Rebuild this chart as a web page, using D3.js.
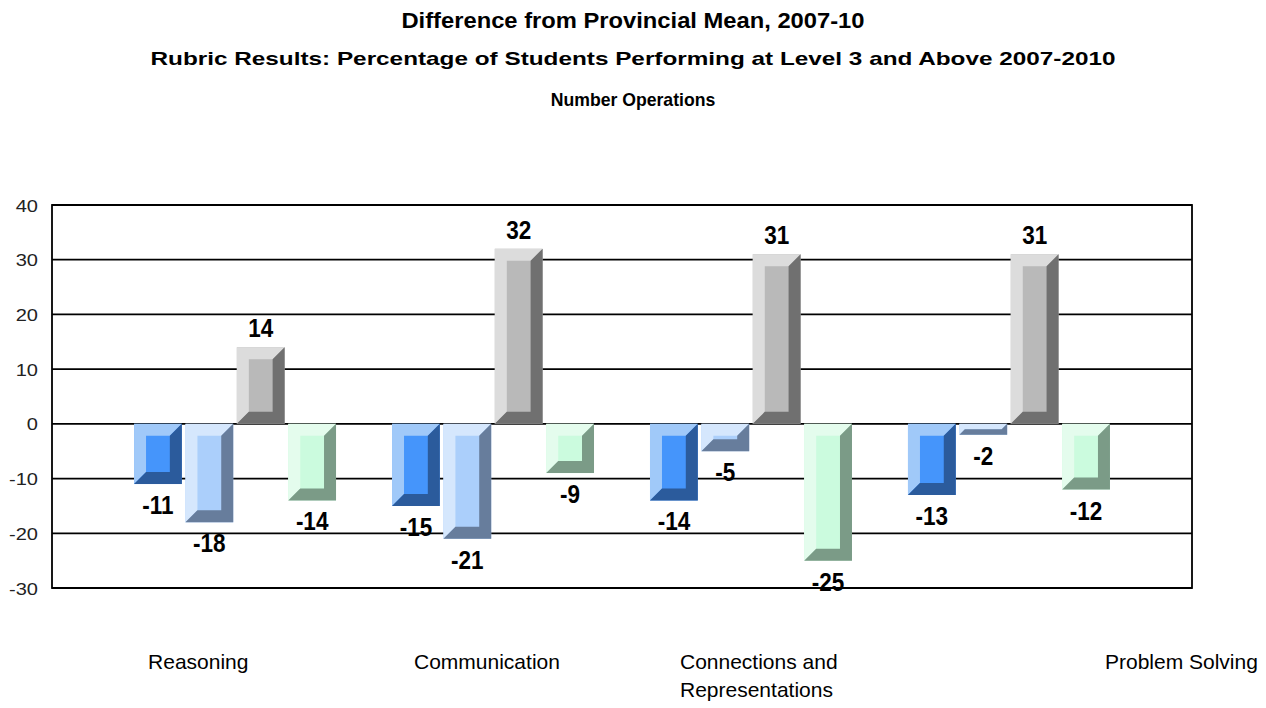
<!DOCTYPE html>
<html>
<head>
<meta charset="utf-8">
<script src="https://cdn.jsdelivr.net/npm/d3@7"></script>
<style>
  html, body { margin: 0; padding: 0; background: #ffffff; }
  svg { display: block; }
  text { font-family: Arial, "Liberation Sans", Helvetica, sans-serif; }
</style>
</head>
<body>
<div id="chart"></div>
<script>
// ---------- data ----------
const titleLines = [
  "Difference from Provincial Mean, 2007-10",
  "Rubric Results: Percentage of Students Performing at Level 3 and Above 2007-2010",
  "Number Operations"
];
const categories = ["Reasoning", "Communication", "Connections and Representations", "Problem Solving"];
const categoryLabelLines = [["Reasoning"], ["Communication"], ["Connections and", "Representations"], ["Problem Solving"]];
const seriesNames = ["Series 1", "Series 2", "Series 3", "Series 4"];
const series1 = [-11, -15, -14, -13];
const series2 = [-18, -21, -5, -2];
const series3 = [14, 32, 31, 31];
const series4 = [-14, -9, -25, -12];
const yTicks = [-30, -20, -10, 0, 10, 20, 30, 40];

const seriesValues = [series1, series2, series3, series4];

// ---------- layout / style ----------
const W = 1266, H = 708;
const plot = { left: 52, right: 1192, top: 205, bottom: 588 };
const palettes = [
  { light: "#a0c9f9", mid: "#4595fb", dark: "#2b5b9c" },
  { light: "#d5e7fd", mid: "#abcffb", dark: "#677d9c" },
  { light: "#dcdcdc", mid: "#b9b9b9", dark: "#707070" },
  { light: "#e4fced", mid: "#cbfbde", dark: "#7b9b87" }
];
const labelDx = [14, 22, 30, 197];
const fmt = d3.formatLocale({ decimal: ".", thousands: ",", grouping: [3], currency: ["", ""], minus: "-" }).format("d");

const svg = d3.select("#chart").append("svg")
  .attr("width", W).attr("height", H);

// helper for horizontally-stretched text
function stretchedText(g, x, y, str, size, weight, anchor, sx) {
  return g.append("text")
    .attr("transform", `translate(${x},${y}) scale(${sx},1)`)
    .attr("text-anchor", anchor)
    .attr("font-size", size)
    .attr("font-weight", weight)
    .attr("fill", "#000")
    .text(str);
}

// titles
const tg = svg.append("g");
stretchedText(tg, W / 2, 28, titleLines[0], 22, "bold", "middle", 1.08);
stretchedText(tg, W / 2, 65, titleLines[1], 19, "bold", "middle", 1.28);
stretchedText(tg, W / 2, 106, titleLines[2], 18, "bold", "middle", 0.98);

// scales
const y = d3.scaleLinear().domain([-30, 40]).range([plot.bottom, plot.top]);
const x0 = d3.scaleBand().domain(categories).range([plot.left, plot.right])
  .paddingInner(0.217).paddingOuter(0.318);
const x1 = d3.scaleBand().domain(seriesNames).range([0, x0.bandwidth()])
  .paddingInner(0.07).paddingOuter(0);

// gridlines
const grid = svg.append("g");
grid.selectAll("line.grid").data(yTicks).join("line")
  .attr("class", "grid")
  .attr("x1", plot.left).attr("x2", plot.right)
  .attr("y1", d => y(d)).attr("y2", d => y(d))
  .attr("stroke", "#000").attr("stroke-width", 1.8);
// frame
svg.append("rect")
  .attr("x", plot.left).attr("y", plot.top)
  .attr("width", plot.right - plot.left).attr("height", plot.bottom - plot.top)
  .attr("fill", "none").attr("stroke", "#000").attr("stroke-width", 1.8);

// y axis labels
const yAxis = svg.append("g").attr("transform", `translate(${plot.left - 14},0)`)
  .call(d3.axisLeft(y).tickValues(yTicks).tickSize(0).tickPadding(0).tickFormat(fmt));
yAxis.select(".domain").remove();
yAxis.selectAll("text")
  .attr("font-size", 17).attr("fill", "#222")
  .attr("font-family", "Arial, 'Liberation Sans', sans-serif")
  .attr("dy", "0.36em")
  .attr("x", 0)
  .attr("transform", "scale(1.18,1)");

// bars with bevel
const bars = [];
categories.forEach((c, ci) => {
  seriesNames.forEach((s, si) => {
    bars.push({ cat: c, ser: s, si, ci, v: seriesValues[si][ci] });
  });
});

const barG = svg.append("g");
const bevelMax = 12;
bars.forEach(d => {
  const bx0 = x0(d.cat) + x1(d.ser);
  const bx1 = bx0 + x1.bandwidth();
  const yA = y(Math.max(0, d.v));
  const yB = y(Math.min(0, d.v));
  const h = yB - yA, w = bx1 - bx0;
  const b = Math.min(bevelMax, h / 2, w / 2);
  const p = palettes[d.si];
  const g = barG.append("g");
  g.append("rect").attr("x", bx0).attr("y", yA).attr("width", w).attr("height", h).attr("fill", p.mid);
  g.append("polygon").attr("fill", p.light).attr("points", [
    [bx0, yA], [bx1, yA], [bx1 - b, yA + b], [bx0 + b, yA + b], [bx0 + b, yB - b], [bx0, yB]
  ].map(q => q.join(",")).join(" "));
  g.append("polygon").attr("fill", p.dark).attr("points", [
    [bx1, yA], [bx1, yB], [bx0, yB], [bx0 + b, yB - b], [bx1 - b, yB - b], [bx1 - b, yA + b]
  ].map(q => q.join(",")).join(" "));
  // value label
  const cx = (bx0 + bx1) / 2;
  const ly = d.v >= 0 ? yA - 10 : yB + 30;
  stretchedText(barG, cx, ly, fmt(d.v), 25, "bold", "middle", 0.9);
});

// category labels
const catG = svg.append("g");
categories.forEach((c, ci) => {
  const lx = x0(c) + labelDx[ci];
  categoryLabelLines[ci].forEach((line, li) => {
    stretchedText(catG, lx, 669 + li * 28, line, 21, "normal", "start", 1.0);
  });
});
</script>
</body>
</html>
